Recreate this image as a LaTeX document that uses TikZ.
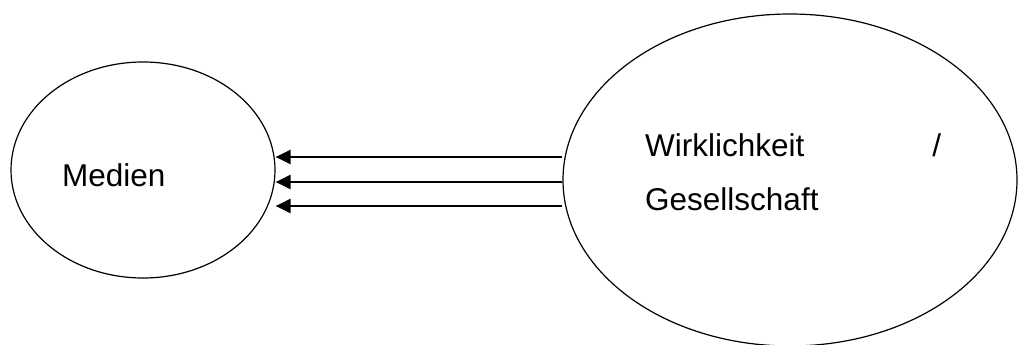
\documentclass[tikz,border=0pt]{standalone}
\usepackage{fontspec}
\setmainfont{Liberation Sans}
\usetikzlibrary{shapes.geometric,arrows.meta}
\begin{document}
\begin{tikzpicture}[x=1pt,y=-1pt,
  oval/.style={draw=black,line width=1.2pt,ellipse,inner sep=0pt},
  lbl/.style={inner sep=0pt,anchor=base west,font=\fontsize{31.5}{54}\selectfont},
  flow/.style={line width=2.4pt,-{Triangle[length=15pt,width=14pt]}}]
\useasboundingbox (0,0) rectangle (1019,345);
\node[oval,minimum width=264pt,minimum height=216pt] (L) at (143,170) {};
\node[oval,minimum width=454pt,minimum height=332pt] (R) at (790,180) {};
\node[lbl] (tm) at (62,186) {Medien};
\node[lbl,text width=296pt,align=left] (tw) at (645,156) {Wirklichkeit\hfill/\\Gesellschaft};
\foreach \yy in {157,182,206}{
  \draw[flow] (R.west |- 0,\yy) -- (L.east |- 0,\yy);
}
\end{tikzpicture}
\end{document}
